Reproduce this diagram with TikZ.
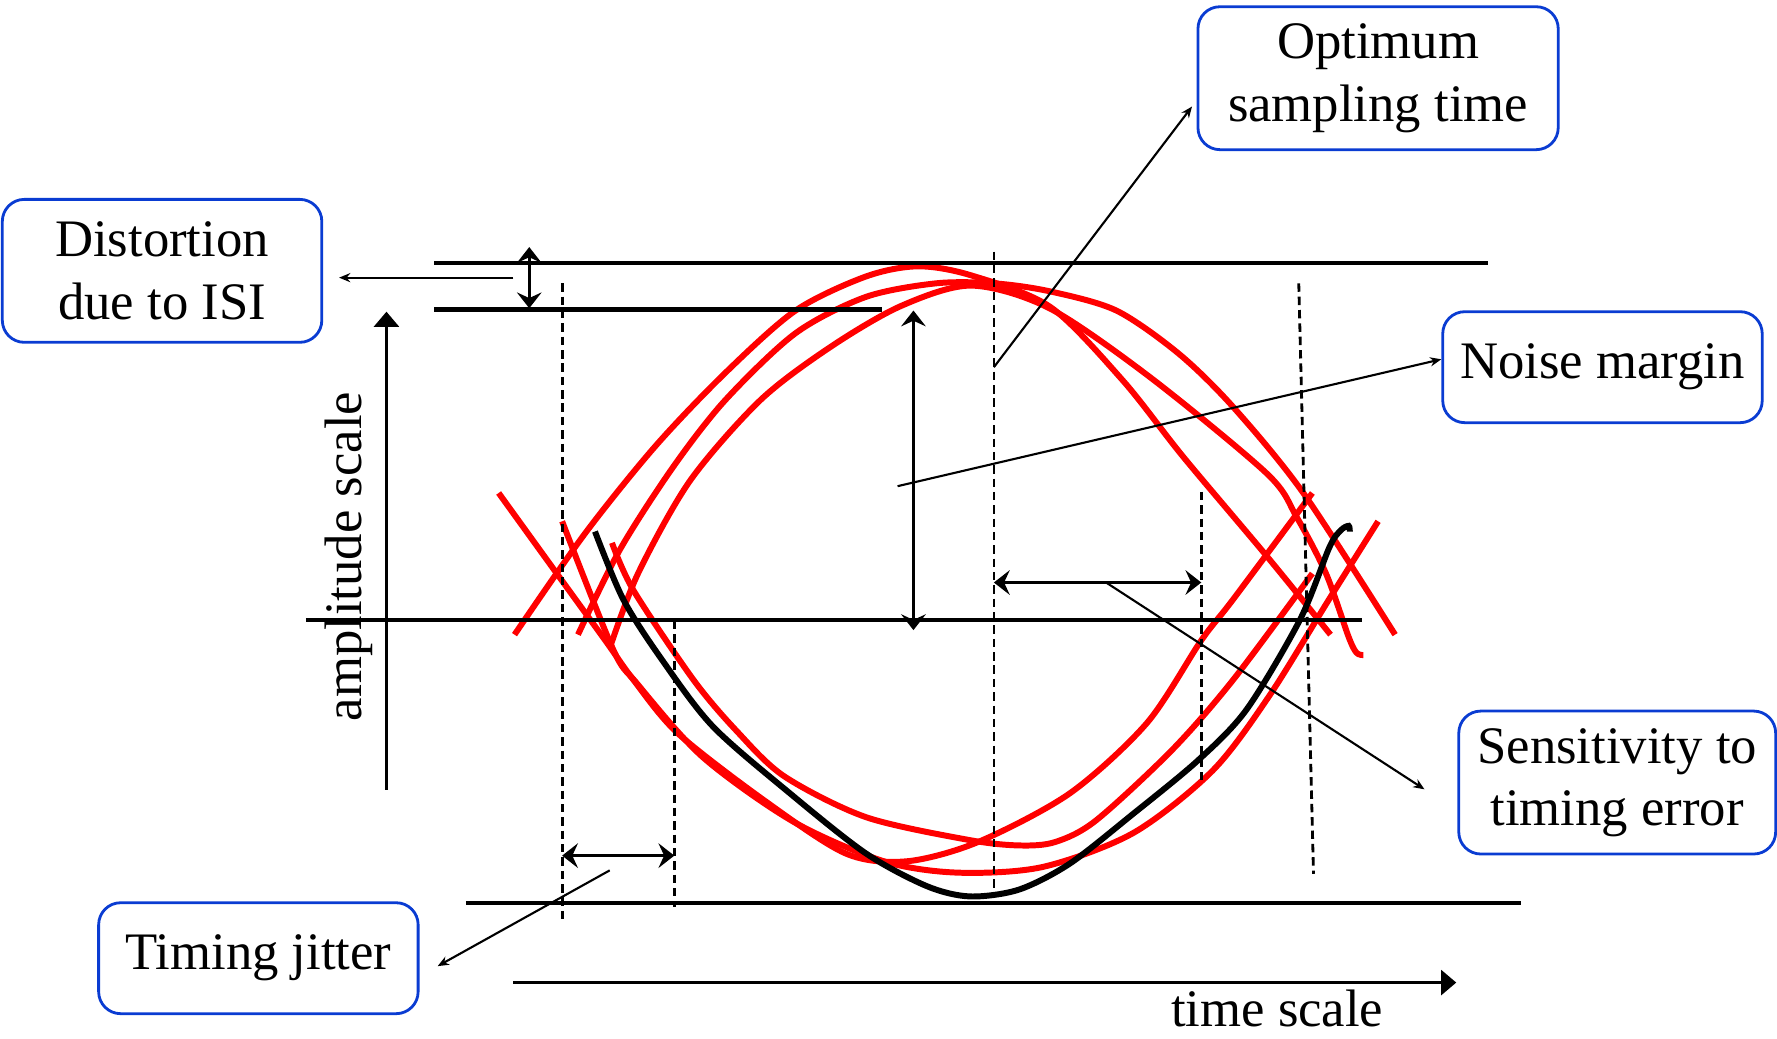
\documentclass[tikz,border=0pt]{standalone}
\usepackage{fontspec}
\setmainfont{Liberation Serif}
\usetikzlibrary{arrows.meta}
\definecolor{boxblue}{RGB}{10,60,210}
\begin{document}
\begin{tikzpicture}[x=0.011333cm, y=-0.011333cm,
  font=\fontsize{15}{17.7}\selectfont,
  infobox/.style={draw=boxblue, line width=0.8pt, rounded corners=0.22cm, align=center,
    minimum width=3.196cm, minimum height=1.11cm, inner sep=0.15cm},
  tallbox/.style={infobox, minimum height=1.43cm},
  rail/.style={line width=1.25pt},
  guide/.style={dash pattern=on 2.4pt off 1.4pt, line width=0.8pt},
  eye/.style={red, line width=1.7pt},
  trace/.style={black, line width=1.7pt},
  dimarrow/.style={{Stealth[length=4.5pt,width=7pt,inset=1.6pt]}-{Stealth[length=4.5pt,width=7pt,inset=1.6pt]}, line width=0.8pt},
  pointer/.style={-{Stealth[length=3.2pt,width=2.6pt]}, line width=0.6pt},
  scalearrow/.style={-{Triangle[length=4.3pt,width=7pt]}, line width=1pt}]
\useasboundingbox (0,0) rectangle (1568,916);
% eye traces
\draw[eye] plot[smooth] coordinates {(454,560) (516,471) (578,394) (640,329) (702,274) (764,244) (810,235) (857,243) (927,271) (991,336) (1044,403) (1118,491) (1174,560)};
\draw[eye] plot[smooth] coordinates {(510,560) (547,485) (594,412) (640,353) (702,294) (764,262) (826,250) (877,250) (926,257) (985,274) (1040,312) (1088,359) (1150,435) (1231,560)};
\draw[eye] plot[smooth] coordinates {(538,572) (563,506) (609,424) (671,353) (733,306) (795,270) (857,252) (926,272) (1015,333) (1118,418) (1144,456) (1170,506) (1190,562) (1197,576) (1203,578)};
\draw[eye] plot[smooth] coordinates {(440,435) (492,507) (534,565) (559,600) (598,647) (674,706) (746,753) (800,760) (863,743) (944,700) (1012,638) (1060,565) (1088,529) (1158,435)};
\draw[eye] plot[smooth] coordinates {(496,460) (541,573) (562,603) (620,668) (700,725) (780,760) (845,770) (920,765) (1000,735) (1070,680) (1120,614) (1172,530) (1216,460)};
\draw[eye] plot[smooth] coordinates {(540,479) (559,521) (612,600) (650,645) (692,685) (764,721) (854,741) (899,746) (931,743) (967,724) (1034,662) (1088,600) (1158,506)};
\draw[trace] plot[smooth] coordinates {(525,469) (550,529) (584,582) (629,641) (697,700) (764,753) (818,782) (856,791) (899,785) (944,762) (1000,718) (1057,671) (1100,626) (1147,547) (1173,483) (1183,468) (1190,464) (1191,469)};
% levels and sampling instants
\draw[rail] (383,232) -- (1313,232);
\draw[rail] (383,273) -- (778,273);
\draw[rail] (270,547) -- (1202,547);
\draw[rail] (411,797) -- (1342,797);
\draw[guide] (496,250) -- (496,815);
\draw[guide] (595,548) -- (595,800);
\draw[guide] (877,222) -- (877,789);
\draw[guide] (1060,434) -- (1060,688);
\draw[guide] (1146,250) -- (1159,771);
\draw[dimarrow] (467,218) -- (467,272);
\draw[dimarrow] (806,274) -- (806,556);
\draw[dimarrow] (877,514) -- (1060,514);
\draw[dimarrow] (496,755) -- (595,755);
\draw[scalearrow] (341,697) -- (341,275);
\draw[scalearrow] (453,867) -- (1285,867);
\node[rotate=90] (amp) at (308,491) {amplitude scale};
\node[anchor=base] (time) at (1127,906) {time scale};
% callouts
\node[tallbox] (isi) at (143,239) {Distortion\\due to ISI};
\node[tallbox, minimum width=3.604cm] (opt) at (1216,69) {Optimum\\sampling time};
\node[infobox] (noise) at (1414,324) {Noise margin};
\node[tallbox, minimum width=3.17cm] (sens) at (1427,690.5) {Sensitivity to\\timing error};
\node[infobox] (jitter) at (228,845.5) {Timing jitter};
\coordinate (isifrom) at (453,245);
\coordinate (optfrom) at (877,324);
\coordinate (noisefrom) at (792,429);
\coordinate (sensfrom) at (976,514);
\coordinate (jitterfrom) at (538,768);
\draw[pointer] (isifrom) -- ([shift={(14,6)}]isi.east);
\draw[pointer] (optfrom) -- ([shift={(-4,25)}]opt.west);
\draw[pointer] (noisefrom) -- ([shift={(0,-7)}]noise.west);
\draw[pointer] (sensfrom) -- ([shift={(-29,6)}]sens.west);
\draw[pointer] (jitterfrom) -- ([shift={(16,7)}]jitter.east);
\end{tikzpicture}
\end{document}
